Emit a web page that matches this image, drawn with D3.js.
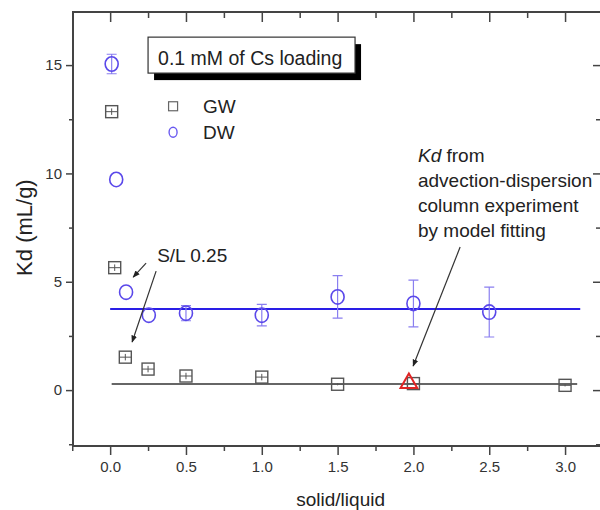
<!DOCTYPE html>
<html>
<head>
<meta charset="utf-8">
<script src="https://d3js.org/d3.v7.min.js"></script>
<style>
  body{ margin:0; background:#fff; }
  svg{ font-family: "Liberation Sans", Arial, sans-serif; }
  .tick text{ fill:#333; font-size:15px; }
</style>
</head>
<body>
<script>
    var svgWidth = 600;
    var svgHeight = 510;

    // GW (groundwater) batch Kd, squares
    var gwX = [0.01, 0.03, 0.1, 0.25, 0.5, 1.0, 1.5, 2.0, 3.0];
    var gwY = [12.85, 5.65, 1.52, 0.97, 0.65, 0.6, 0.27, 0.3, 0.22];
    var gwErr = [0.15, 0.15, 0.15, 0.15, 0.15, 0.15, 0.05, 0.05, 0.05];

    // DW (distilled water) batch Kd, circles
    var dwX = [0.01, 0.04, 0.105, 0.255, 0.5, 1.0, 1.5, 2.0, 2.5];
    var dwY = [15.05, 9.72, 4.52, 3.46, 3.55, 3.46, 4.3, 4.0, 3.6];
    var dwErr = [0.45, 0, 0, 0, 0.35, 0.5, 0.98, 1.08, 1.15];

    // averaged Kd lines
    var gwFit = {x0: 0.01, x1: 3.08, y: 0.28};
    var dwFit = {x0: 0.0, x1: 3.1, y: 3.74};

    // column experiment Kd
    var columnKd = [[1.97, 0.32]];

    var xTicks = [0, 0.5, 1.0, 1.5, 2.0, 2.5, 3.0];
    var xMinor = [-0.25, 0.25, 0.75, 1.25, 1.75, 2.25, 2.75];
    var yTicks = [0, 5, 10, 15];
    var yMinor = [-2.5, 2.5, 7.5, 12.5];

    var svg = d3.select("body")
        .append("svg")
        .attr("width", svgWidth)
        .attr("height", svgHeight);

    var x = d3.scaleLinear().domain([-0.245, 3.237]).range([73, 601]);
    var y = d3.scaleLinear().domain([-2.58, 17.45]).range([446, 12]);

    var axisColor = "#444";

    // Axes
    svg.append("g").attr("transform", "translate(0,446)")
        .call(d3.axisBottom(x).tickValues(xTicks).tickSize(9).tickSizeOuter(0)
            .tickFormat(d3.format(".1f")).tickPadding(6));
    svg.append("g").attr("transform", "translate(0,446)")
        .call(d3.axisBottom(x).tickValues(xMinor).tickSize(5).tickFormat(""));
    svg.append("g").attr("transform", "translate(0,12)")
        .call(d3.axisBottom(x).tickValues(xTicks).tickSize(10).tickFormat(""));
    svg.append("g").attr("transform", "translate(0,12)")
        .call(d3.axisBottom(x).tickValues(xMinor.slice(1)).tickSize(6).tickFormat(""));

    svg.append("g").attr("transform", "translate(73,0)")
        .call(d3.axisLeft(y).tickValues(yTicks).tickSize(7).tickPadding(4));
    svg.append("g").attr("transform", "translate(73,0)")
        .call(d3.axisLeft(y).tickValues(yMinor).tickSize(4).tickFormat(""));
    svg.append("g").attr("transform", "translate(601,0)")
        .call(d3.axisLeft(y).tickValues(yTicks).tickSize(8).tickFormat(""));
    svg.append("g").attr("transform", "translate(601,0)")
        .call(d3.axisLeft(y).tickValues(yMinor).tickSize(5).tickFormat(""));

    svg.selectAll(".domain").remove();
    svg.selectAll(".tick line").attr("stroke", axisColor).attr("stroke-width", 1.5);

    // frame (right side falls just outside the picture)
    svg.append("rect")
        .attr("x", 73).attr("y", 12)
        .attr("width", 531).attr("height", 434)
        .attr("fill", "none")
        .attr("stroke", axisColor)
        .attr("stroke-width", 2);

    // axis titles
    svg.append("text")
        .attr("transform", "translate(32," + y(7.5) + ") rotate(-90)")
        .attr("text-anchor", "middle")
        .attr("fill", "#222")
        .style("font-size", "22px")
        .text("Kd (mL/g)");

    svg.append("text")
        .attr("x", x(1.52)).attr("y", 506)
        .attr("text-anchor", "middle")
        .attr("fill", "#222")
        .style("font-size", "19px")
        .text("solid/liquid");

    // fit lines
    svg.append("line")
        .attr("x1", x(gwFit.x0)).attr("x2", x(gwFit.x1))
        .attr("y1", y(gwFit.y)).attr("y2", y(gwFit.y))
        .attr("stroke", "#333").attr("stroke-width", 1.5);
    svg.append("line")
        .attr("x1", x(dwFit.x0)).attr("x2", x(dwFit.x1))
        .attr("y1", y(dwFit.y)).attr("y2", y(dwFit.y))
        .attr("stroke", "#2a1ee6").attr("stroke-width", 2);

    // GW squares with error bars
    var gw = gwX.map(function(d, i){ return {x: d, y: gwY[i], e: gwErr[i]}; });
    var gwColor = "#555";
    var sq = 12;
    var gwG = svg.append("g");
    gwG.selectAll(".gwerr").data(gw).enter().append("path")
        .attr("d", function(d){
            var cx = x(d.x), t = y(d.y + d.e), b = y(d.y - d.e);
            return "M" + cx + "," + t + "V" + b +
                "M" + (cx - sq/2) + "," + y(d.y) + "H" + (cx + sq/2);
        })
        .attr("stroke", gwColor).attr("stroke-width", 1).attr("fill", "none");
    gwG.selectAll("rect").data(gw).enter().append("rect")
        .attr("x", function(d){ return x(d.x) - sq/2; })
        .attr("y", function(d){ return y(d.y) - sq/2; })
        .attr("width", sq).attr("height", sq)
        .attr("fill", "none")
        .attr("stroke", gwColor).attr("stroke-width", 1.4);

    // DW circles with error bars
    var dw = dwX.map(function(d, i){ return {x: d, y: dwY[i], e: dwErr[i]}; });
    var dwG = svg.append("g");
    dwG.selectAll(".dwerr").data(dw.filter(function(d){ return d.e > 0; })).enter().append("path")
        .attr("d", function(d){
            var cx = x(d.x), t = y(d.y + d.e), b = y(d.y - d.e);
            return "M" + cx + "," + t + "V" + b +
                "M" + (cx - 5) + "," + t + "H" + (cx + 5) +
                "M" + (cx - 5) + "," + b + "H" + (cx + 5);
        })
        .attr("stroke", "#8a7ff0").attr("stroke-width", 1.2).attr("fill", "none");
    dwG.selectAll("ellipse").data(dw).enter().append("ellipse")
        .attr("cx", function(d){ return x(d.x); })
        .attr("cy", function(d){ return y(d.y); })
        .attr("rx", 6.5).attr("ry", 7.2)
        .attr("fill", "none")
        .attr("stroke", "#5a48ea").attr("stroke-width", 1.6);

    // column experiment triangle
    svg.selectAll(".tri").data(columnKd).enter().append("path")
        .attr("transform", function(d){ return "translate(" + x(d[0]) + "," + y(d[1]) + ")"; })
        .attr("d", d3.symbol().type(d3.symbolTriangle).size(120))
        .attr("fill", "none")
        .attr("stroke", "#e02424").attr("stroke-width", 2);

    // legend box with shadow
    var lb = {x0: 0.25, x1: 1.615, y0: 16.29, y1: 14.63};
    svg.append("rect")
        .attr("x", x(lb.x0) + 6).attr("y", y(lb.y0) + 7)
        .attr("width", x(lb.x1) - x(lb.x0)).attr("height", y(lb.y1) - y(lb.y0))
        .attr("fill", "#000");
    svg.append("rect")
        .attr("x", x(lb.x0)).attr("y", y(lb.y0))
        .attr("width", x(lb.x1) - x(lb.x0)).attr("height", y(lb.y1) - y(lb.y0))
        .attr("fill", "#fff").attr("stroke", "#333").attr("stroke-width", 1.2);
    svg.append("text")
        .attr("x", x(lb.x0) + 10).attr("y", y(lb.y0) + 28)
        .attr("fill", "#222")
        .style("font-size", "19.5px")
        .text("0.1 mM of Cs loading");

    // series legend
    var lgX = 0.415;
    svg.append("rect")
        .attr("x", x(lgX) - 4.5).attr("y", y(13.1) - 4.5)
        .attr("width", 9).attr("height", 9)
        .attr("fill", "none").attr("stroke", "#666").attr("stroke-width", 1.2);
    svg.append("text").attr("x", x(lgX) + 30).attr("y", y(13.1) + 7)
        .attr("fill", "#222").style("font-size", "19px").text("GW");
    svg.append("ellipse")
        .attr("cx", x(lgX)).attr("cy", y(11.9))
        .attr("rx", 4).attr("ry", 5)
        .attr("fill", "none").attr("stroke", "#6a5af0").attr("stroke-width", 1.4);
    svg.append("text").attr("x", x(lgX) + 30).attr("y", y(11.9) + 7)
        .attr("fill", "#222").style("font-size", "19px").text("DW");

    // annotations
    svg.append("defs").append("marker")
        .attr("id", "arr")
        .attr("viewBox", "0 0 10 10")
        .attr("refX", 9).attr("refY", 5)
        .attr("markerWidth", 6).attr("markerHeight", 6)
        .attr("orient", "auto")
        .append("path").attr("d", "M0,1L10,5L0,9z").attr("fill", "#222");

    var arrows = [
        [[0.237, 5.86], [0.152, 5.21]],
        [[0.303, 5.49], [0.145, 2.22]],
        [[2.308, 6.6], [1.998, 1.11]]
    ];
    svg.selectAll(".arrow").data(arrows).enter().append("line")
        .attr("x1", function(d){ return x(d[0][0]); })
        .attr("y1", function(d){ return y(d[0][1]); })
        .attr("x2", function(d){ return x(d[1][0]); })
        .attr("y2", function(d){ return y(d[1][1]); })
        .attr("stroke", "#333").attr("stroke-width", 1.2)
        .attr("marker-end", "url(#arr)");

    svg.append("text")
        .attr("x", x(0.31)).attr("y", y(5.9))
        .attr("fill", "#222").style("font-size", "19px")
        .text("S/L 0.25");

    var kdLines = ["from", "advection-dispersion", "column experiment", "by model fitting"];
    var kdText = svg.append("text")
        .attr("x", x(2.03)).attr("y", y(10.52))
        .attr("fill", "#222").style("font-size", "19px");
    kdText.append("tspan").attr("font-style", "italic").text("Kd");
    kdText.append("tspan").text(" " + kdLines[0]);
    kdLines.slice(1).forEach(function(t, i){
        svg.append("text")
            .attr("x", x(2.03)).attr("y", y(10.52) + 25 * (i + 1))
            .attr("fill", "#222").style("font-size", "19px")
            .text(t);
    });
</script>
</body>
</html>
